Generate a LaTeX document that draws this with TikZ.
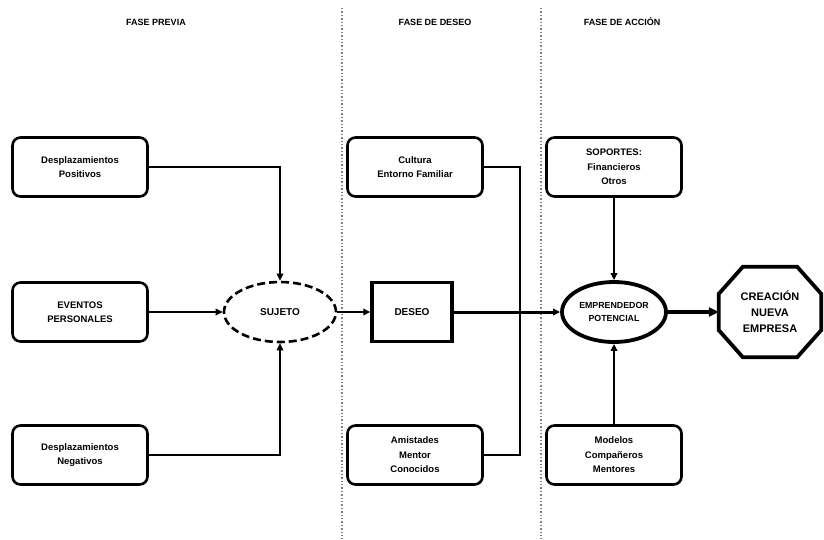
\documentclass[tikz,border=0pt]{standalone}
\usepackage{fontspec}
\setmainfont{Liberation Sans}
\usetikzlibrary{arrows.meta,shapes.geometric,calc}
\begin{document}
\begin{tikzpicture}[x=1pt,y=-1pt,
  box/.style={draw, line width=2.6pt, rounded corners=8pt, minimum width=135pt, minimum height=59pt, align=center, inner sep=2pt, font=\bfseries\fontsize{9.5}{14.5}\selectfont},
  title/.style={font=\bfseries\fontsize{9}{11}\selectfont},
  conn/.style={line width=2.6pt},
  arr/.style={line width=2.6pt, -{Triangle[length=7pt,width=6.5pt]}},
  bigarr/.style={line width=3.8pt, -{Triangle[length=10pt,width=9pt]}},
  sep/.style={gray, dotted, line width=1.4pt}
]
\useasboundingbox (0,0) rectangle (824,539);

% titles
\node[title] (t1) at (156,22) {FASE PREVIA};
\node[title] (t2) at (435,22) {FASE DE DESEO};
\node[title] (t3) at (622,22) {FASE DE ACCIÓN};

% separators
\coordinate (s1a) at (342,8); \coordinate (s1b) at (342,539);
\coordinate (s2a) at (541,8); \coordinate (s2b) at (541,539);
\draw[sep] (s1a) -- (s1b);
\draw[sep] (s2a) -- (s2b);

% left column
\node[box] (dp) at (80,167) {Desplazamientos\\Positivos};
\node[box] (ep) at (80,312) {EVENTOS\\PERSONALES};
\node[box] (dn) at (80,455) {Desplazamientos\\Negativos};

\node[draw, ellipse, dashed, dash pattern=on 8pt off 4pt, line width=2.6pt, minimum width=112pt, minimum height=60pt, font=\bfseries\fontsize{10}{12}\selectfont] (suj) at (280,312) {SUJETO};

% middle column
\node[box] (cul) at (415,167) {Cultura\\Entorno Familiar};
\node[box] (ami) at (415,455) {Amistades\\Mentor\\Conocidos};
\node[draw, line width=3.4pt, minimum width=80pt, minimum height=59pt, font=\bfseries\fontsize{10}{12}\selectfont] (des) at (412,312) {DESEO};
\coordinate (j) at (520,312);

% right column
\node[box] (sop) at (614,167) {SOPORTES:\\Financieros\\Otros};
\node[box] (mod) at (614,455) {Modelos\\Compañeros\\Mentores};
\node[draw, ellipse, line width=3.8pt, minimum width=104pt, minimum height=60pt, inner sep=0pt, align=center, font=\bfseries\fontsize{8.8}{12.5}\selectfont] (emp) at (614,312) {EMPRENDEDOR\\POTENCIAL};

\node[minimum width=102pt, minimum height=90pt, inner sep=0pt, align=center, font=\bfseries\fontsize{11}{16}\selectfont] (cre) at (770,312) {CREACIÓN\\NUEVA\\EMPRESA};
\draw[line width=3.8pt, line join=miter]
  ($(cre.north west)+(24,0)$) -- ($(cre.north east)+(-24,0)$) --
  ($(cre.north east)+(0,27)$) -- ($(cre.south east)+(0,-27)$) --
  ($(cre.south east)+(-24,0)$) -- ($(cre.south west)+(24,0)$) --
  ($(cre.south west)+(0,-27)$) -- ($(cre.north west)+(0,27)$) -- cycle;

% connectors
\draw[arr] (dp.east) -| (suj.north);
\draw[arr] (dn.east) -| (suj.south);
\draw[arr] (ep.east) -- (suj.west);
\draw[arr] (suj.east) -- (des.west);
\draw[conn] (cul.east) -| (j) |- (ami.east);
\draw[arr, line width=3pt] (des.east) -- (emp.west);
\draw[arr] (sop.south) -- (emp.north);
\draw[arr] (mod.north) -- (emp.south);
\draw[bigarr] (emp.east) -- (cre.west);
\end{tikzpicture}
\end{document}
